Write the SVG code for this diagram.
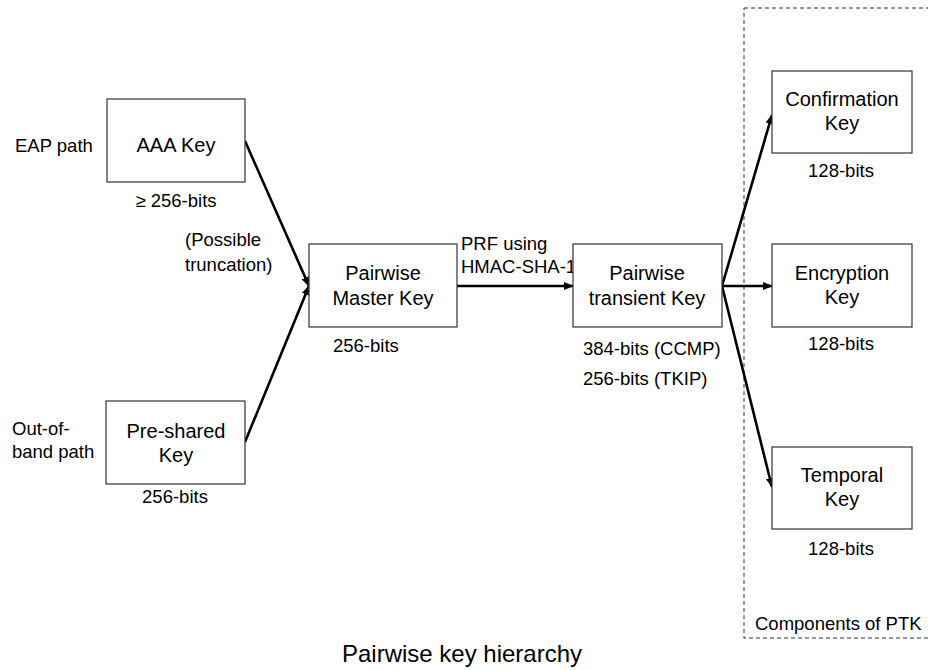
<svg xmlns="http://www.w3.org/2000/svg" width="928" height="670" viewBox="0 0 928 670">
<defs>
<style>
text{font-family:"Liberation Sans",Arial,sans-serif;fill:#000}
.n{font-size:20px;text-anchor:middle}
.s{font-size:18.5px}
.sc{font-size:18.5px;text-anchor:middle}
.box{fill:#fff;stroke:#333;stroke-width:1.2}
.c{stroke:#000;stroke-width:2.6;fill:none;marker-end:url(#ah)}
</style>
<marker id="ah" markerUnits="userSpaceOnUse" markerWidth="10" markerHeight="8" refX="9" refY="4" orient="auto">
<path d="M0,0 L10,4 L0,8 Z" fill="#000"/>
</marker>
</defs>
<rect x="744" y="8" width="190" height="630" fill="none" stroke="#333" stroke-width="1" stroke-dasharray="4,3"/>
<text class="s" x="755" y="630">Components of PTK</text>
<g id="connectors">
<line class="c" x1="245" y1="141" x2="309" y2="286"/>
<line class="c" x1="245" y1="442" x2="309" y2="286"/>
<line class="c" x1="457" y1="286" x2="573" y2="286"/>
<line class="c" x1="722" y1="286" x2="772" y2="115"/>
<line class="c" x1="722" y1="286" x2="772" y2="286"/>
<line class="c" x1="722" y1="286" x2="772" y2="487"/>
</g>
<g id="aaa">
<rect class="box" x="107" y="99" width="138" height="83"/>
<text class="n" x="176" y="152">AAA Key</text>
<text class="s" x="15" y="152">EAP path</text>
<text class="sc" x="176" y="207">≥ 256-bits</text>
<text class="s" x="185" y="246">(Possible</text>
<text class="s" x="185" y="271">truncation)</text>
</g>
<g id="psk">
<rect class="box" x="106" y="401" width="139" height="83"/>
<text class="n" x="176" y="438">Pre-shared</text>
<text class="n" x="176" y="462">Key</text>
<text class="s" x="12" y="435">Out-of-</text>
<text class="s" x="12" y="458">band path</text>
<text class="sc" x="175" y="503">256-bits</text>
</g>
<g id="pmk">
<rect class="box" x="309" y="244" width="148" height="83"/>
<text class="n" x="383" y="280">Pairwise</text>
<text class="n" x="383" y="305">Master Key</text>
<text class="s" x="333" y="352">256-bits</text>
<text class="s" x="461" y="250">PRF using</text>
<text class="s" x="461" y="273">HMAC-SHA-1</text>
</g>
<g id="ptk">
<rect class="box" x="573" y="244" width="149" height="83"/>
<text class="n" x="647" y="280">Pairwise</text>
<text class="n" x="647" y="305">transient Key</text>
<text class="s" x="583" y="355">384-bits (CCMP)</text>
<text class="s" x="583" y="385">256-bits (TKIP)</text>
</g>
<g id="confirmation">
<rect class="box" x="772" y="71" width="140" height="82"/>
<text class="n" x="842" y="106">Confirmation</text>
<text class="n" x="842" y="130">Key</text>
<text class="sc" x="841" y="177">128-bits</text>
</g>
<g id="encryption">
<rect class="box" x="772" y="244" width="140" height="83"/>
<text class="n" x="842" y="280">Encryption</text>
<text class="n" x="842" y="304">Key</text>
<text class="sc" x="841" y="350">128-bits</text>
</g>
<g id="temporal">
<rect class="box" x="772" y="447" width="140" height="82"/>
<text class="n" x="842" y="482">Temporal</text>
<text class="n" x="842" y="506">Key</text>
<text class="sc" x="841" y="555">128-bits</text>
</g>
<text x="462" y="662" font-size="24" text-anchor="middle">Pairwise key hierarchy</text>
</svg>
